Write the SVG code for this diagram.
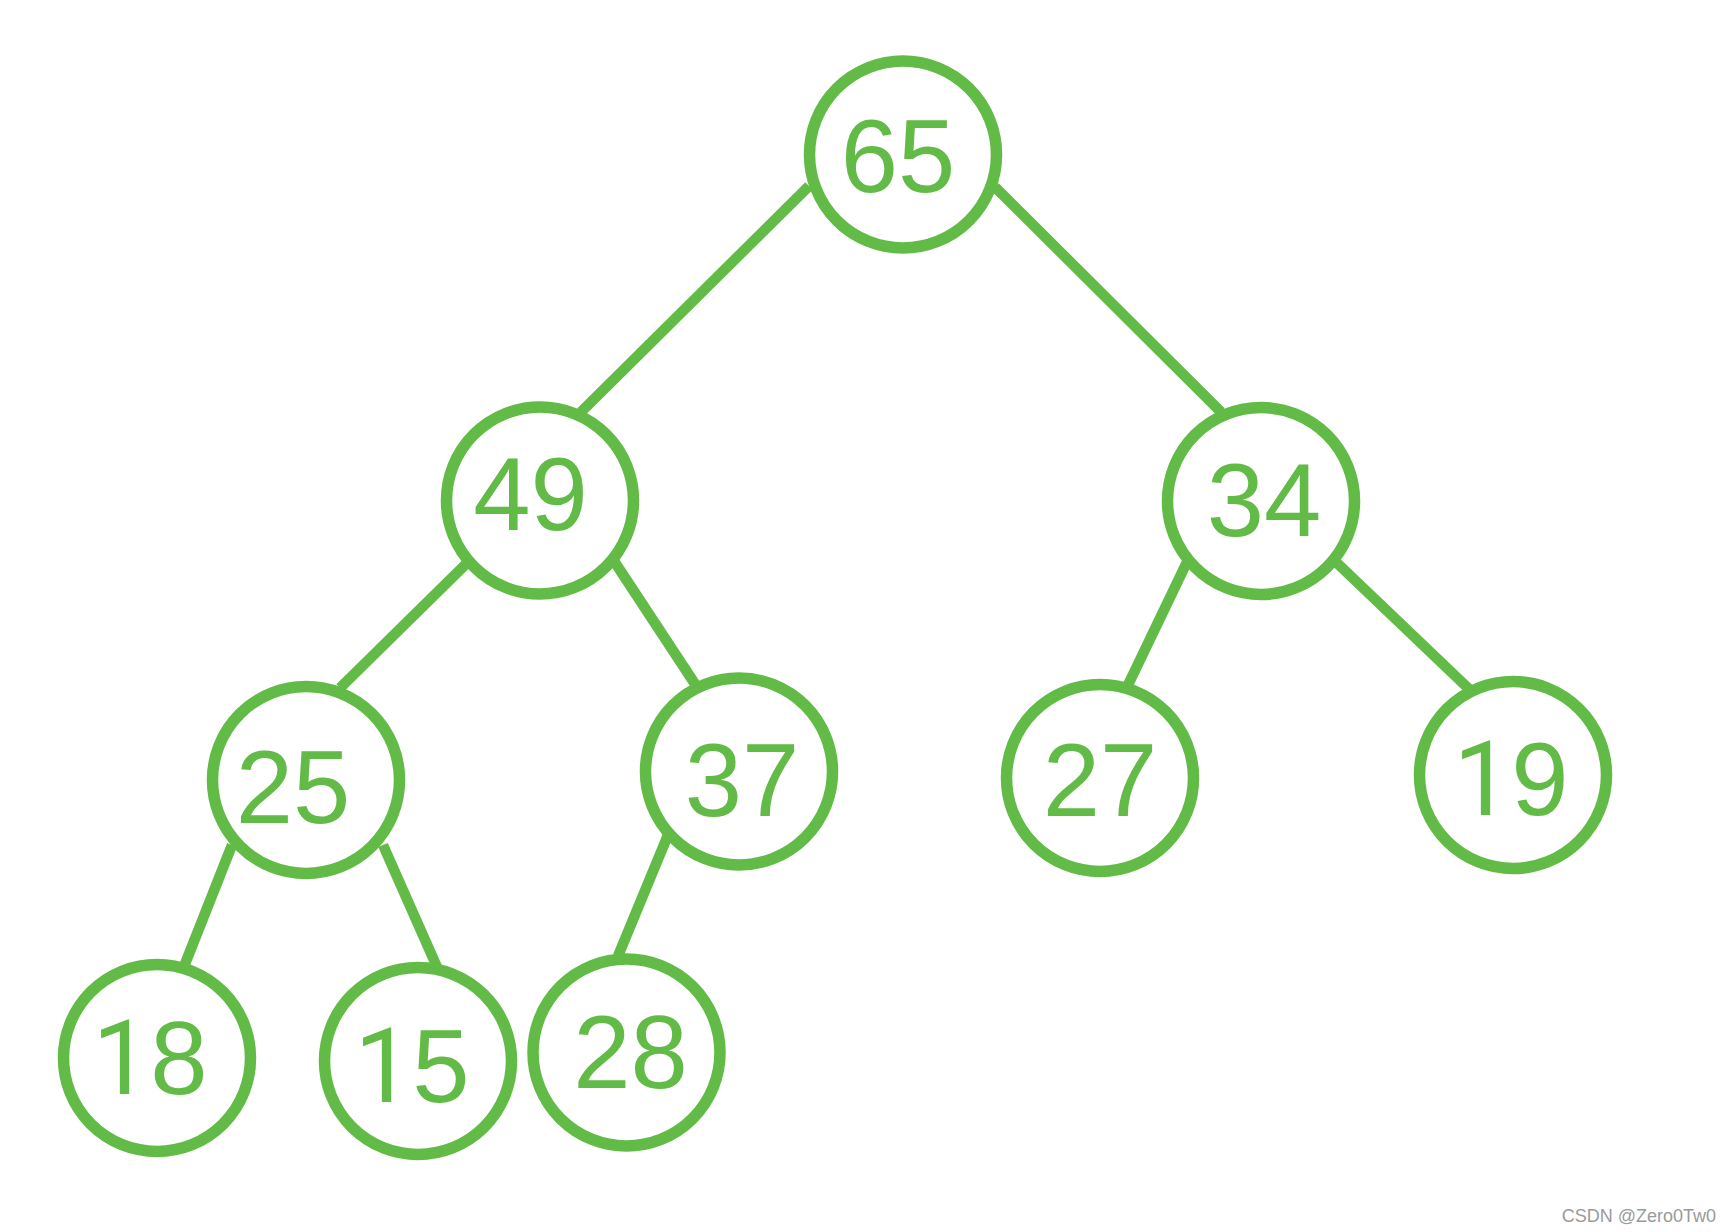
<svg xmlns="http://www.w3.org/2000/svg" width="1733" height="1232" viewBox="0 0 1733 1232">
<style>
.edge{stroke:#62BB46;stroke-width:10.5;stroke-linecap:butt;fill:none}
.node circle{fill:#fff;stroke:#62BB46;stroke-width:11.5}
.node text{font-family:"Liberation Sans",Arial,sans-serif;font-size:103px;fill:#62BB46;text-anchor:middle}
.one{font-family:Roboto,"Liberation Sans",sans-serif}
.wm{font-family:"Liberation Sans",Arial,sans-serif;font-size:18px;fill:#9a9a9a;text-anchor:end}
</style>
<rect width="1733" height="1232" fill="#fff"/>
<g id="connectors">
<line class="edge" x1="809" y1="186" x2="581" y2="412"/>
<line class="edge" x1="995" y1="187" x2="1221" y2="412"/>
<line class="edge" x1="466" y1="564" x2="340" y2="688"/>
<line class="edge" x1="614" y1="561" x2="695" y2="684"/>
<line class="edge" x1="1187" y1="562" x2="1128" y2="685"/>
<line class="edge" x1="1337" y1="563" x2="1469" y2="689"/>
<line class="edge" x1="232" y1="845" x2="185" y2="964"/>
<line class="edge" x1="383" y1="845" x2="437" y2="967"/>
<line class="edge" x1="668" y1="835" x2="618" y2="956"/>
</g>
<g id="node-65" class="node"><circle cx="903" cy="154.5" r="93.5"/><text x="898" y="192">65</text></g>
<g id="node-49" class="node"><circle cx="540" cy="500.5" r="93.5"/><text x="530.5" y="530">49</text></g>
<g id="node-34" class="node"><circle cx="1261" cy="501" r="93.5"/><text x="1264" y="536">34</text></g>
<g id="node-25" class="node"><circle cx="306" cy="780" r="93.5"/><text x="293" y="823">25</text></g>
<g id="node-37" class="node"><circle cx="739" cy="771.5" r="93.5"/><text x="742" y="816">37</text></g>
<g id="node-27" class="node"><circle cx="1100" cy="778" r="93.5"/><text x="1100" y="816">27</text></g>
<g id="node-19" class="node"><circle cx="1513" cy="775" r="93.5"/><text x="1511" y="815"><tspan class="one">1</tspan>9</text></g>
<g id="node-18" class="node"><circle cx="157" cy="1058" r="93.5"/><text x="150" y="1094"><tspan class="one">1</tspan>8</text></g>
<g id="node-15" class="node"><circle cx="418" cy="1061" r="93.5"/><text x="412" y="1102"><tspan class="one">1</tspan>5</text></g>
<g id="node-28" class="node"><circle cx="626.5" cy="1052.5" r="93.5"/><text x="630.5" y="1088">28</text></g>
<text class="wm" x="1716" y="1222">CSDN @Zero0Tw0</text>
</svg>
